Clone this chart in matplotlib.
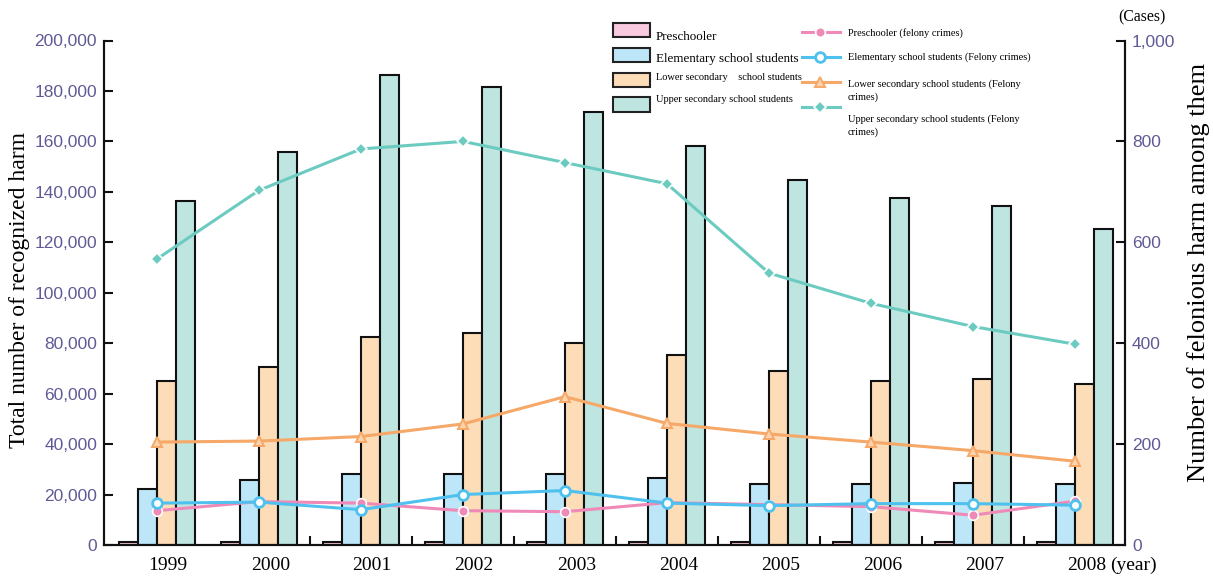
import matplotlib
matplotlib.use("Agg")
import matplotlib.pyplot as plt
import numpy as np
from matplotlib.patches import Rectangle
from matplotlib.lines import Line2D

plt.rcParams["font.family"] = ["Liberation Serif", "DejaVu Serif"]

years = ["1999", "2000", "2001", "2002", "2003", "2004", "2005", "2006", "2007", "2008"]

# Recognized harm (left axis, number of victims)
preschool_total = [1000, 1000, 1000, 1000, 1000, 1000, 1000, 1000, 1000, 1000]
elementary_total = [22200, 25600, 28000, 28000, 28000, 26400, 24000, 24000, 24600, 24000]
lower_total = [65000, 70400, 82600, 84000, 80000, 75300, 68900, 65000, 65700, 64000]
upper_total = [136500, 155800, 186200, 181400, 171800, 158200, 144700, 137600, 134400, 125300]

# Felonious harm among them (right axis, cases)
preschool_felony = [68, 86, 83, 68, 66, 84, 80, 76, 59, 87]
elementary_felony = [83, 85, 70, 100, 108, 83, 78, 82, 82, 79]
lower_felony = [204, 206, 215, 240, 294, 241, 220, 204, 187, 166]
upper_felony = [567, 703, 785, 800, 758, 716, 539, 479, 433, 398]

bar_labels = ["Preschooler", "Elementary school students",
              "Lower secondary    school students", "Upper secondary school students"]
line_labels = ["Preschooler (felony crimes)", "Elementary school students (Felony crimes)",
               "Lower secondary school students (Felony\ncrimes)",
               "Upper secondary school students (Felony\ncrimes)"]

bar_colors = ["#f9c9df", "#bde6f8", "#fddcb8", "#bfe5e1"]
line_colors = ["#ef8ab8", "#4fc1ee", "#f6a868", "#6ccbc1"]

W, H = 1213, 576
fig = plt.figure(figsize=(W / 100, H / 100), dpi=100)


def fx(px):
    return px / W


def fy(py):
    return 1 - py / H


ax = fig.add_axes([fx(104), fy(545), (1125 - 104) / W, (545 - 40.5) / H])
ax2 = ax.twinx()

x = np.arange(len(years))
bw = 0.186
totals = [preschool_total, elementary_total, lower_total, upper_total]
for k, (vals, col) in enumerate(zip(totals, bar_colors)):
    ax.bar(x + (k - 1.5) * bw, vals, width=bw, color=col,
           edgecolor="#111111", linewidth=1.5, zorder=2)

ax.set_xlim((104 - 157) / 102, (1125 - 157) / 102)
ax.set_ylim(0, 200000)
ax.set_yticks(np.arange(0, 200001, 20000))
ax.set_yticklabels([f"{v:,}" for v in range(0, 200001, 20000)])

ax.set_xticks(x + 0.11)
ax.set_xticklabels(years, fontsize=14)
ax.set_xticks(np.arange(1.5, 9.0, 1.0), minor=True)
ax.tick_params(axis="x", which="major", length=0, pad=9)
ax.tick_params(axis="x", which="minor", direction="in", length=6.5, width=1.5, color="#111111")

ax.tick_params(axis="y", direction="in", length=6.5, width=1.5, color="#111111",
               labelcolor="#5f5a96", pad=5)
for lab in ax.get_yticklabels():
    lab.set_fontfamily("Liberation Sans")
    lab.set_fontsize(12.5)

felony = [preschool_felony, elementary_felony, lower_felony, upper_felony]
styles = [
    dict(marker="o", ms=7, mfc=line_colors[0], mec="white", mew=1.2),
    dict(marker="o", ms=7, mfc="white", mec=line_colors[1], mew=2.0),
    dict(marker="^", ms=7, mfc="#fcd3ad", mec=line_colors[2], mew=1.4),
    dict(marker="D", ms=6.5, mfc=line_colors[3], mec="white", mew=1.2),
]
for vals, col, st in zip(felony, line_colors, styles):
    ax2.plot(x, vals, color=col, lw=2.2, zorder=3, **st)

ax2.set_ylim(0, 1000)
ax2.set_yticks(np.arange(0, 1001, 200))
ax2.set_yticklabels([f"{v:,}" for v in range(0, 1001, 200)])
ax2.tick_params(axis="y", direction="in", length=6.5, width=1.5, color="#111111",
                labelcolor="#5f5a96", pad=5)
for lab in ax2.get_yticklabels():
    lab.set_fontfamily("Liberation Sans")
    lab.set_fontsize(12.5)

for a in (ax, ax2):
    a.spines["top"].set_visible(False)
    for s in ("left", "right", "bottom"):
        a.spines[s].set_linewidth(1.5)
        a.spines[s].set_color("#111111")

# axis titles and units
fig.text(fx(20), fy(290), "Total number of recognized harm", rotation=90,
         ha="center", va="center", fontsize=17)
fig.text(fx(1199), fy(272), "Number of felonious harm among them", rotation=90,
         ha="center", va="center", fontsize=19)
fig.text(fx(1142), fy(17), "(Cases)", ha="center", va="center", fontsize=11.3)
fig.text(fx(1110), fy(565), "(year)", ha="left", va="center", fontsize=14)

# legend for bars
swatch_y = [30, 55, 80, 104.5]
text_y = [37, 59, 78, 99]
text_size = [9.4, 9.4, 7.5, 7.5]
for col, lab, sy, ty, fs in zip(bar_colors, bar_labels, swatch_y, text_y, text_size):
    fig.patches.append(Rectangle((fx(613), fy(sy + 7)), fx(650) - fx(613), (14) / H,
                                 transform=fig.transFigure, facecolor=col,
                                 edgecolor="#222222", linewidth=1.5))
    fig.text(fx(656), fy(ty), lab, ha="left", va="center", fontsize=fs)

# legend for lines
line_y = [32, 57, 82, 107]
label_y = [33, 57, 90.5, 125.5]
for col, st, lab, ly, ty in zip(line_colors, styles, line_labels, line_y, label_y):
    fig.lines.append(Line2D([fx(802), fx(840)], [fy(ly), fy(ly)], transform=fig.transFigure,
                            color=col, lw=2.2))
    fig.lines.append(Line2D([fx(820)], [fy(ly)], transform=fig.transFigure,
                            color=col, lw=0, **st))
    fig.text(fx(848), fy(ty), lab, ha="left", va="center", fontsize=7.5, linespacing=1.45)

fig.savefig("out.png", dpi=100)
